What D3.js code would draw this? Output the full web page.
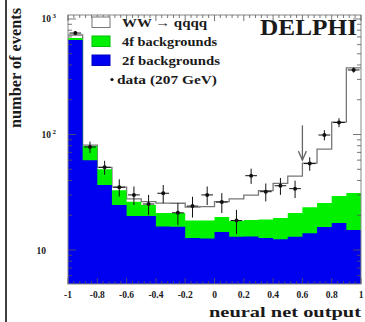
<!DOCTYPE html>
<html>
<head>
<meta charset="utf-8">
<script src="https://d3js.org/d3.v7.min.js"></script>
<style>
  body { margin: 0; background: #fff; }
  svg { display: block; }
  text { font-family: "Liberation Serif", "DejaVu Serif", serif; fill: #1a1a1a; font-weight: bold; }
</style>
</head>
<body>
<script>
// bins of the neural net output, lower edges
const binLo = [-1, -0.9, -0.8, -0.7, -0.6, -0.5, -0.4, -0.3, -0.2, -0.1,
               0, 0.1, 0.2, 0.3, 0.4, 0.5, 0.6, 0.7, 0.8, 0.9];
// stacked simulation components
const twoF = [658, 60, 36.6, 24.5, 19.7, 19.7, 16, 15.9, 12.7, 12.6,
              14.3, 13, 13.1, 12.7, 12.4, 13, 14, 15.8, 17.1, 14.9];
const fourF = [26, 19.5, 13.4, 8.5, 6.5, 4.8, 4.9, 5, 5.3, 5.4,
               5, 4.8, 5.1, 5.7, 6.5, 7.9, 9.5, 9.7, 12.3, 16.3];
const wwQQ = [43, 1.5, 2, 2, 1.5, 1.7, 4.6, 4.5, 5.5, 5.8,
              6.9, 9.9, 11.7, 14.3, 18.8, 22.8, 33.1, 49.3, 98.6, 346];
// data at 207 GeV
const dataCounts = [756, 78, 52, 35, 30, 25, 31, 21, 24, 30,
                    26, 18, 44, 32, 36, 34, 56, 99, 127, 362];

const xTicks = [-1, -0.8, -0.6, -0.4, -0.2, 0, 0.2, 0.4, 0.6, 0.8, 1];
const xTickLabels = ["-1", "-0.8", "-0.6", "-0.4", "-0.2", "0", "0.2", "0.4", "0.6", "0.8", "1"];
const yMajor = [10, 100, 1000];
const yTickBase = ["10", "10", "10"];
const yTickExp = ["", "2", "3"];

const cutX = 0.6, arrowFrom = 120, arrowTo = 60;

const W = 365, H = 322;
const m = { left: 68, right: 4, top: 15, bottom: 38 };

const svg = d3.select('body').append('svg')
  .attr('width', W).attr('height', H);

const x = d3.scaleLinear().domain([-1, 1]).range([m.left, W - m.right]);
const y = d3.scaleLog().domain([5.08, 1083]).range([H - m.bottom, m.top]);

// stack totals
const blueTop = twoF.slice();
const greenTop = twoF.map((v, i) => v + fourF[i]);
const totalTop = greenTop.map((v, i) => v + wwQQ[i]);

function stepPts(vals) {
  const pts = binLo.map((b, i) => ({ x: b, v: vals[i] }));
  pts.push({ x: 1, v: vals[vals.length - 1] });
  return pts;
}

const area = d3.area().curve(d3.curveStepAfter)
  .x(d => x(d.x)).y0(y.range()[0]).y1(d => y(d.v));
const line = d3.line().curve(d3.curveStepAfter)
  .x(d => x(d.x)).y(d => y(d.v));

// WW -> qqqq (white with grey outline)
svg.append('path').attr('d', area(stepPts(totalTop))).attr('fill', '#fff');
svg.append('path').attr('d', line(stepPts(totalTop)))
  .attr('fill', 'none').attr('stroke', '#777').attr('stroke-width', 1.3);
// 4f
svg.append('path').attr('d', area(stepPts(greenTop))).attr('fill', '#00f000');
// 2f
svg.append('path').attr('d', area(stepPts(blueTop))).attr('fill', '#0000f0');

// frame
const x0 = x.range()[0], x1 = x.range()[1], y0 = y.range()[0], y1 = y.range()[1];
svg.append('rect').attr('x', x0).attr('y', y1).attr('width', x1 - x0).attr('height', y0 - y1)
  .attr('fill', 'none').attr('stroke', '#888').attr('stroke-width', 1);

// x ticks: top and bottom
const xMinor = d3.range(-1, 1.0001, 0.04);
const tk = svg.append('g').attr('stroke', '#555').attr('stroke-width', 0.8);
xMinor.forEach(v => {
  const major = Math.abs(Math.round(v * 5) - v * 5) < 1e-6;
  const len = major ? 6 : 3;
  tk.append('line').attr('x1', x(v)).attr('x2', x(v)).attr('y1', y1).attr('y2', y1 + len);
  tk.append('line').attr('x1', x(v)).attr('x2', x(v)).attr('y1', y0).attr('y2', y0 - len);
});

// y ticks: left and right (log)
const yMinor = [];
[1, 10, 100, 1000].forEach(d => d3.range(1, 10).forEach(k => {
  const v = d * k;
  if (v >= y.domain()[0] && v <= y.domain()[1]) yMinor.push(v);
}));
yMinor.forEach(v => {
  const len = yMajor.includes(v) ? 8 : 4;
  tk.append('line').attr('x1', x0).attr('x2', x0 + len).attr('y1', y(v)).attr('y2', y(v));
  tk.append('line').attr('x1', x1).attr('x2', x1 - len).attr('y1', y(v)).attr('y2', y(v));
});

// tick labels
xTicks.forEach((v, i) => {
  svg.append('text').attr('x', x(v)).attr('y', y0 + 14)
    .attr('text-anchor', 'middle').attr('font-size', 9.5).text(xTickLabels[i]);
});
yMajor.forEach((v, i) => {
  const endX = yTickExp[i] ? 51 : 46;
  svg.append('text').attr('x', endX).attr('y', y(v) + 3.5)
    .attr('text-anchor', 'end').attr('font-size', 9.5).text(yTickBase[i]);
  if (yTickExp[i]) {
    svg.append('text').attr('x', endX + 1.5).attr('y', y(v) - 1)
      .attr('font-size', 7).text(yTickExp[i]);
  }
});

// data points with errors
const dg = svg.append('g');
dataCounts.forEach((n, i) => {
  const cx = binLo[i] + 0.05;
  const e = Math.sqrt(n);
  dg.append('line').attr('x1', x(cx)).attr('x2', x(cx))
    .attr('y1', y(n + e)).attr('y2', y(Math.max(n - e, 5.1)))
    .attr('stroke', '#111').attr('stroke-width', 1);
  dg.append('line').attr('x1', x(cx - 0.04)).attr('x2', x(cx + 0.04))
    .attr('y1', y(n)).attr('y2', y(n))
    .attr('stroke', '#111').attr('stroke-width', 1);
  dg.append('circle').attr('cx', x(cx)).attr('cy', y(n)).attr('r', 2).attr('fill', '#111');
});

// cut arrow
const ag = svg.append('g').attr('stroke', '#666').attr('stroke-width', 1.3).attr('fill', 'none');
ag.append('line').attr('x1', x(cutX)).attr('x2', x(cutX)).attr('y1', y(arrowFrom)).attr('y2', y(arrowTo));
ag.append('path').attr('d', `M${x(cutX) - 4},${y(arrowTo) - 9}L${x(cutX)},${y(arrowTo)}L${x(cutX) + 4},${y(arrowTo) - 9}`);

// legend
const lg = svg.append('g');
const legendRows = [
  { fill: '#fff', stroke: '#777', label: 'WW \u2192 qqqq', w: 85 },
  { fill: '#00f000', stroke: '#00c000', label: '4f backgrounds', w: 95 },
  { fill: '#0000f0', stroke: '#0000c0', label: '2f backgrounds', w: 98 }
];
legendRows.forEach((r, i) => {
  const yy = 17 + i * 19;
  lg.append('rect').attr('x', 92).attr('y', yy).attr('width', 18).attr('height', 10.5)
    .attr('fill', r.fill).attr('stroke', r.stroke).attr('stroke-width', 1);
  lg.append('text').attr('x', 122).attr('y', yy + 9.5).attr('font-size', 12.5)
    .attr('textLength', r.w).attr('lengthAdjust', 'spacingAndGlyphs').text(r.label);
});
lg.append('circle').attr('cx', 112).attr('cy', 79.5).attr('r', 1.6).attr('fill', '#111');
lg.append('text').attr('x', 117).attr('y', 83.5).attr('font-size', 12.5)
  .attr('textLength', 100).attr('lengthAdjust', 'spacingAndGlyphs').text('data (207 GeV)');

svg.append('text').attr('x', 357).attr('y', 35).attr('text-anchor', 'end')
  .attr('font-size', 24).attr('textLength', 97).attr('lengthAdjust', 'spacingAndGlyphs')
  .text('DELPHI');

// axis titles
svg.append('text').attr('x', 361).attr('y', 317).attr('text-anchor', 'end')
  .attr('font-size', 15).attr('textLength', 152).attr('lengthAdjust', 'spacingAndGlyphs')
  .text('neural net output');
svg.append('text').attr('transform', 'translate(21,68) rotate(-90)')
  .attr('text-anchor', 'middle').attr('font-size', 16)
  .attr('textLength', 120).attr('lengthAdjust', 'spacingAndGlyphs')
  .text('number of events');

// page border on the left
svg.append('line').attr('x1', 6).attr('x2', 6).attr('y1', 0).attr('y2', H)
  .attr('stroke', '#000').attr('stroke-width', 1.5);
</script>
</body>
</html>
